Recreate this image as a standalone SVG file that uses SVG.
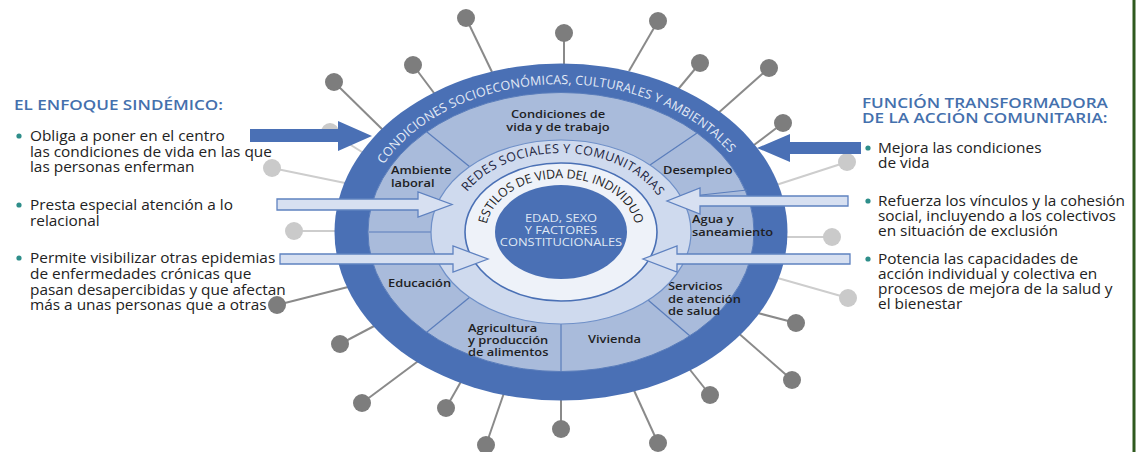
<svg xmlns="http://www.w3.org/2000/svg" xmlns:xlink="http://www.w3.org/1999/xlink" width="1144" height="452" viewBox="0 0 1144 452">
<style>
.title{font-family:"Open Sans",Lato,"Liberation Sans",sans-serif;font-size:15px;font-weight:600;fill:#4470ad}
.body{font-family:"Open Sans",Lato,"Liberation Sans",sans-serif;font-size:14px;font-weight:500;fill:#222222}
.dot{fill:#2e8e8a}
.seg{font-family:"Open Sans",Lato,"Liberation Sans",sans-serif;font-size:11.5px;font-weight:600;fill:#1f1f24}
.ctr{font-family:"Open Sans",Lato,"Liberation Sans",sans-serif;font-size:11.5px;fill:#dfe7f4;text-anchor:middle}
.ring1{font-family:"Open Sans",Lato,"Liberation Sans",sans-serif;font-size:12.5px;fill:#e3eaf6}
.ring2{font-family:"Open Sans",Lato,"Liberation Sans",sans-serif;font-size:12.5px;fill:#1c2440}
.ring3{font-family:"Open Sans",Lato,"Liberation Sans",sans-serif;font-size:12.5px;fill:#1c1c24}
.sp{stroke:#8a8a8a;stroke-width:2}
.spc{fill:#7d7d7d}
.spl{stroke:#cdcdcd;stroke-width:2}
.splc{fill:#cacaca}
.div{stroke:#5a7dbb;stroke-width:1.2;fill:none}
.darr{fill:#4a70b5}
.larr{fill:#d7e0f1;stroke:#5f82c0;stroke-width:1.3}
</style>
<defs>
<path id="pOuter" d="M 369.8,190.4 A 199 147 0 0 1 752.2,190.4"/>
<path id="pRedes" d="M 455.7,211.6 A 109 79 0 0 1 666.3,211.6"/>
<path id="pEstilos" d="M 486.3,227.3 A 75 54 0 0 1 635.7,227.3"/>
</defs>
<rect width="1144" height="452" fill="#ffffff"/>
<line x1="1134" y1="0" x2="1134" y2="452" stroke="#2f5a1f" stroke-width="3"/>

<g id="spikes">
<line class="sp" x1="466" y1="18" x2="492" y2="72"/><circle class="spc" cx="466" cy="18" r="9"/>
<line class="sp" x1="564" y1="33" x2="564" y2="68"/><circle class="spc" cx="564" cy="33" r="9"/>
<line class="sp" x1="658" y1="21" x2="629" y2="71"/><circle class="spc" cx="658" cy="21" r="9"/>
<line class="sp" x1="413" y1="65" x2="437" y2="97"/><circle class="spc" cx="413" cy="65" r="9"/>
<line class="sp" x1="334" y1="82" x2="385" y2="132"/><circle class="spc" cx="334" cy="82" r="9"/>
<line class="sp" x1="700" y1="63" x2="675" y2="93"/><circle class="spc" cx="700" cy="63" r="9"/>
<line class="sp" x1="769" y1="68" x2="716" y2="115"/><circle class="spc" cx="769" cy="68" r="9"/>
<line class="sp" x1="783" y1="123" x2="750" y2="148"/><circle class="spc" cx="783" cy="123" r="9"/>
<line class="sp" x1="796" y1="323" x2="754" y2="312"/><circle class="spc" cx="796" cy="323" r="9"/>
<line class="sp" x1="792" y1="380" x2="736" y2="331"/><circle class="spc" cx="792" cy="380" r="9"/>
<line class="sp" x1="710" y1="395" x2="687" y2="366"/><circle class="spc" cx="710" cy="395" r="9"/>
<line class="sp" x1="658" y1="443" x2="632" y2="386"/><circle class="spc" cx="658" cy="443" r="9"/>
<line class="sp" x1="561" y1="429" x2="561" y2="395"/><circle class="spc" cx="561" cy="429" r="9"/>
<line class="sp" x1="486" y1="445" x2="505" y2="390"/><circle class="spc" cx="486" cy="445" r="9"/>
<line class="sp" x1="446" y1="408" x2="463" y2="378"/><circle class="spc" cx="446" cy="408" r="9"/>
<line class="sp" x1="362" y1="403" x2="421" y2="359"/><circle class="spc" cx="362" cy="403" r="9"/>
<line class="sp" x1="340" y1="344" x2="378" y2="324"/><circle class="spc" cx="340" cy="344" r="9"/>
<line class="sp" x1="277" y1="305" x2="352" y2="286"/><circle class="spc" cx="277" cy="305" r="9"/>
<line class="spl" x1="847" y1="162" x2="773" y2="186"/><circle class="splc" cx="847" cy="162" r="9"/>
<line class="spl" x1="832" y1="237" x2="783" y2="237"/><circle class="splc" cx="832" cy="237" r="9"/>
<line class="spl" x1="848" y1="298" x2="774" y2="277"/><circle class="splc" cx="848" cy="298" r="9"/>
<line class="spl" x1="294" y1="231" x2="340" y2="231"/><circle class="splc" cx="294" cy="231" r="9"/>
<line class="spl" x1="272" y1="168" x2="350" y2="184"/><circle class="splc" cx="272" cy="168" r="9"/>
<line class="spl" x1="330" y1="132" x2="362" y2="152"/><circle class="splc" cx="330" cy="132" r="9"/>
</g>

<g id="ring-condiciones">
<ellipse cx="561" cy="232" rx="226.5" ry="168.5" fill="#4a70b5"/>
<text class="ring1"><textPath xlink:href="#pOuter" href="#pOuter" startOffset="48.5%" text-anchor="middle" textLength="390" lengthAdjust="spacing">CONDICIONES SOCIOECONÓMICAS, CULTURALES Y AMBIENTALES</textPath></text>
</g>

<g id="ring-segments">
<ellipse cx="561" cy="232" rx="193" ry="139.5" fill="#a9bbdb" stroke="#5a7dbb" stroke-width="1"/>
<line class="div" x1="427" y1="132" x2="470" y2="167"/>
<line class="div" x1="697" y1="133" x2="650" y2="165"/>
<line class="div" x1="683" y1="197" x2="747" y2="190"/>
<line class="div" x1="685" y1="260" x2="750" y2="262"/>
<line class="div" x1="690" y1="336" x2="648" y2="300"/>
<line class="div" x1="561" y1="323" x2="561" y2="372"/>
<line class="div" x1="427" y1="332" x2="470" y2="297"/>
<line class="div" x1="369" y1="232" x2="432" y2="232"/>
</g>

<g id="segment-labels" transform="matrix(1.12 0 0 1 -67.32 0)">
<g id="seg-condiciones"><text class="seg" x="558.3" y="118" text-anchor="middle">Condiciones de</text><text class="seg" x="558.3" y="131" text-anchor="middle">vida y de trabajo</text></g>
<g id="seg-ambiente"><text class="seg" x="409.2" y="174">Ambiente</text><text class="seg" x="409.2" y="187">laboral</text></g>
<g id="seg-desempleo"><text class="seg" x="652.1" y="174">Desempleo</text></g>
<g id="seg-agua"><text class="seg" x="678" y="223">Agua y</text><text class="seg" x="678" y="236">saneamiento</text></g>
<g id="seg-educacion"><text class="seg" x="406.5" y="287">Educación</text></g>
<g id="seg-servicios"><text class="seg" x="656.5" y="290">Servicios</text><text class="seg" x="656.5" y="303">de atención</text><text class="seg" x="656.5" y="315">de salud</text></g>
<g id="seg-agricultura"><text class="seg" x="478" y="332">Agricultura</text><text class="seg" x="478" y="344">y producción</text><text class="seg" x="478" y="356">de alimentos</text></g>
<g id="seg-vivienda"><text class="seg" x="585.1" y="343">Vivienda</text></g>
</g>

<g id="ring-redes">
<ellipse cx="561" cy="232" rx="130" ry="92" fill="#cfdaee" stroke="#6f90c8" stroke-width="1.2"/>
<text class="ring2"><textPath xlink:href="#pRedes" href="#pRedes" startOffset="51%" text-anchor="middle" textLength="215" lengthAdjust="spacing">REDES SOCIALES Y COMUNITARIAS</textPath></text>
</g>

<g id="ring-estilos">
<ellipse cx="561" cy="232" rx="96" ry="69" fill="#eef2f9" stroke="#4a70b5" stroke-width="1.6"/>
<text class="ring3"><textPath xlink:href="#pEstilos" href="#pEstilos" startOffset="50%" text-anchor="middle" textLength="188" lengthAdjust="spacing">ESTILOS DE VIDA DEL INDIVIDUO</textPath></text>
</g>

<g id="core">
<ellipse cx="561" cy="232" rx="66" ry="47" fill="#4a70b5"/>
<g transform="matrix(1.12 0 0 1 -67.32 0)">
<text class="ctr" x="561" y="222">EDAD, SEXO</text>
<text class="ctr" x="561" y="234">Y FACTORES</text>
<text class="ctr" x="561" y="246">CONSTITUCIONALES</text>
</g>
</g>

<g id="connectors">
<polygon class="darr" points="250,129 338,129 338,121 372,136 338,151 338,142 250,142"/>
<polygon class="darr" points="861,142 790,142 790,134 757,148 790,162 790,154 861,154"/>
<polygon class="larr" points="277,199 418,199 418,192 452,204.5 418,217 418,210 277,210"/>
<polygon class="larr" points="280,254 453,254 453,246 488,259 453,272 453,264 280,264"/>
<polygon class="larr" points="848,196 700,196 700,188 667,201 700,214 700,206 848,206"/>
<polygon class="larr" points="850,254 677,254 677,246 643,259 677,272 677,264 850,264"/>
</g>

<g id="panel-left">
<circle class="dot" cx="19" cy="136" r="2.6"/>
<circle class="dot" cx="19" cy="205" r="2.6"/>
<circle class="dot" cx="19" cy="258" r="2.6"/>
<text class="title" transform="matrix(1.14 0 0 1 0 0)" x="12.28" y="110">EL ENFOQUE SINDÉMICO:</text>
<g transform="matrix(1.1 0 0 1 0 0)">
<text class="body" x="27.27" y="141">Obliga a poner en el centro</text>
<text class="body" x="27.27" y="157">las condiciones de vida en las que</text>
<text class="body" x="27.27" y="172">las personas enferman</text>
<text class="body" x="27.27" y="210">Presta especial atención a lo</text>
<text class="body" x="27.27" y="226">relacional</text>
<text class="body" x="27.27" y="263">Permite visibilizar otras epidemias</text>
<text class="body" x="27.27" y="279">de enfermedades crónicas que</text>
<text class="body" x="27.27" y="295">pasan desapercibidas y que afectan</text>
<text class="body" x="27.27" y="310">más a unas personas que a otras</text>
</g>
</g>

<g id="panel-right">
<circle class="dot" cx="868" cy="148" r="2.6"/>
<circle class="dot" cx="868" cy="201" r="2.6"/>
<circle class="dot" cx="868" cy="259" r="2.6"/>
<g transform="matrix(1.14 0 0 1 0 0)">
<text class="title" x="756.14" y="108">FUNCIÓN TRANSFORMADORA</text>
<text class="title" x="756.14" y="123">DE LA ACCIÓN COMUNITARIA:</text>
</g>
<g transform="matrix(1.1 0 0 1 0 0)">
<text class="body" x="798.18" y="153">Mejora las condiciones</text>
<text class="body" x="798.18" y="168">de vida</text>
<text class="body" x="798.18" y="206">Refuerza los vínculos y la cohesión</text>
<text class="body" x="798.18" y="221">social, incluyendo a los colectivos</text>
<text class="body" x="798.18" y="236">en situación de exclusión</text>
<text class="body" x="798.18" y="264">Potencia las capacidades de</text>
<text class="body" x="798.18" y="279">acción individual y colectiva en</text>
<text class="body" x="798.18" y="294">procesos de mejora de la salud y</text>
<text class="body" x="798.18" y="309">el bienestar</text>
</g>
</g>
</svg>
